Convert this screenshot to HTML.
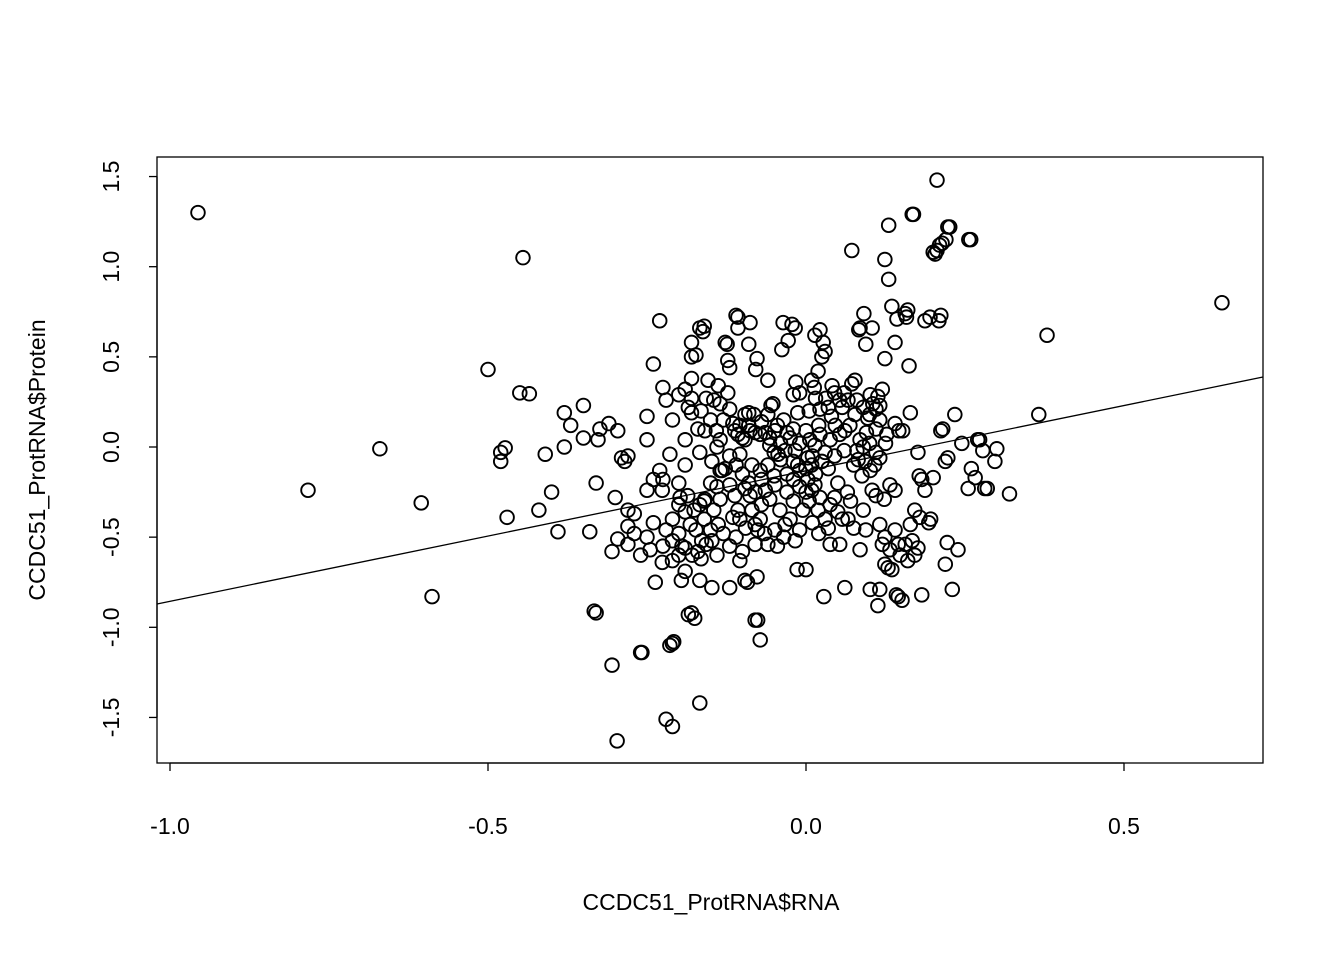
<!DOCTYPE html>
<html><head><meta charset="utf-8"><style>
html,body{margin:0;padding:0;background:#fff}
svg{display:block;font-family:"Liberation Sans",Arial,sans-serif}
</style></head><body>
<svg id="chart" width="1344" height="960" viewBox="0 0 1344 960">
<rect x="157" y="157" width="1106" height="606" fill="none" stroke="#000" stroke-width="1.3"/>
<g id="xaxis"></g>
<g id="yaxis"></g>
<g id="pts"></g>
<line id="fit" stroke="#000" stroke-width="1.3"/>
<text x="711" y="910" font-size="23" text-anchor="middle">CCDC51_ProtRNA$RNA</text>
<text transform="translate(45,460) rotate(-90)" font-size="23" text-anchor="middle">CCDC51_ProtRNA$Protein</text>
</svg>
<script>
const xTicks=[-1.0,-0.5,0.0,0.5];
const xTickLabels=["-1.0","-0.5","0.0","0.5"];
const yTicks=[-1.5,-1.0,-0.5,0.0,0.5,1.0,1.5];
const yTickLabels=["-1.5","-1.0","-0.5","0.0","0.5","1.0","1.5"];
const fitIntercept=-0.132;
const fitSlope=0.724;
const observations=[
[-0.956,1.30],[-0.445,1.05],[-0.67,-0.01],[-0.783,-0.24],[-0.605,-0.31],[-0.588,-0.83],[-0.50,0.43],[-0.45,0.30],[-0.435,0.295],
[-0.473,-0.005],[-0.48,-0.03],[-0.48,-0.08],[-0.47,-0.39],[-0.42,-0.35],[-0.41,-0.04],[-0.40,-0.25],[-0.39,-0.47],[-0.38,0.19],
[-0.38,0.0],[-0.37,0.12],[-0.35,0.23],[-0.35,0.05],[-0.34,-0.47],[-0.333,-0.91],[-0.33,-0.92],[-0.33,-0.20],[-0.327,0.04],
[-0.324,0.10],[-0.31,0.13],[-0.305,-0.58],[-0.305,-1.21],[-0.297,-1.63],[-0.30,-0.28],[-0.296,0.09],[-0.296,-0.51],
[-0.285,-0.08],[-0.29,-0.06],[-0.28,-0.05],[-0.28,-0.44],[-0.28,-0.54],[-0.28,-0.35],[-0.27,-0.37],[-0.26,-1.14],[-0.258,-1.14],
[-0.25,-0.24],[-0.25,0.17],[-0.25,0.04],[-0.24,0.46],[-0.24,-0.18],[-0.245,-0.57],[-0.237,-0.75],[-0.23,0.70],[-0.225,0.33],
[-0.22,0.26],[-0.226,-0.64],[-0.225,-0.55],[-0.22,-0.46],[-0.226,-0.24],[-0.22,-1.51],[-0.21,-1.55],[-0.214,-1.10],[-0.21,-1.09],
[-0.208,-1.08],[-0.214,-0.04],[-0.21,0.15],[-0.20,0.29],[-0.19,0.32],[-0.18,0.27],[-0.185,0.22],[-0.18,0.19],[-0.196,-0.74],
[-0.19,-0.69],[-0.185,-0.93],[-0.18,-0.92],[-0.175,-0.95],[-0.23,-0.13],[-0.225,-0.18],
[-0.18,0.58],[-0.167,0.66],[-0.16,0.67],[-0.162,0.64],[-0.173,0.51],[-0.18,0.50],[-0.18,0.38],[-0.154,0.37],[-0.138,0.34],
[-0.157,0.27],[-0.145,0.26],[-0.135,0.24],[-0.12,0.21],[-0.11,0.73],[-0.107,0.72],[-0.107,0.66],[-0.127,0.58],[-0.124,0.57],
[-0.123,0.48],[-0.12,0.44],[-0.123,0.30],[-0.104,0.12],[-0.096,0.18],[-0.09,0.19],[-0.082,0.18],[-0.088,0.69],[-0.09,0.57],
[-0.079,0.43],[-0.077,0.49],[-0.06,0.37],[-0.055,0.23],[-0.052,0.24],[-0.038,0.54],[-0.036,0.69],[-0.028,0.59],[-0.022,0.68],
[-0.017,0.66],[-0.02,0.29],[-0.016,0.36],[-0.013,0.19],[-0.01,0.30],
[-0.19,0.04],[-0.167,-0.03],[-0.159,0.09],[-0.141,0.09],[-0.135,0.04],[-0.148,-0.08],[-0.135,-0.13],[-0.127,-0.12],[-0.112,0.09],
[-0.107,0.07],[-0.096,0.04],[-0.104,-0.04],[-0.088,0.09],[-0.08,0.08],[-0.072,0.07],[-0.064,0.08],[-0.057,0.05],[-0.049,0.09],
[-0.057,0.01],[-0.044,-0.04],[-0.04,-0.07],[-0.033,-0.02],[-0.025,0.05],[-0.017,-0.02],[-0.013,-0.10],[-0.01,-0.13],[-0.085,-0.10],
[-0.072,-0.13],[-0.03,-0.15],[-0.02,-0.18],[-0.05,-0.16],
[-0.198,-0.28],[-0.186,-0.27],[-0.176,-0.35],[-0.167,-0.32],[-0.159,-0.29],[-0.182,-0.43],[-0.173,-0.46],[-0.164,-0.52],[-0.19,-0.56],
[-0.179,-0.60],[-0.157,-0.54],[-0.148,-0.52],[-0.138,-0.43],[-0.135,-0.29],[-0.132,-0.13],[-0.12,-0.21],[-0.112,-0.27],[-0.107,-0.35],
[-0.115,-0.39],[-0.104,-0.40],[-0.096,-0.23],[-0.088,-0.27],[-0.08,-0.43],[-0.076,-0.46],[-0.08,-0.54],[-0.072,-0.40],[-0.064,-0.24],
[-0.057,-0.29],[-0.049,-0.21],[-0.06,-0.54],[-0.049,-0.46],[-0.041,-0.35],[-0.033,-0.43],[-0.025,-0.40],[-0.017,-0.52],[-0.01,-0.46],
[-0.014,-0.68],[0.0,-0.68],[-0.096,-0.74],[-0.092,-0.75],[-0.077,-0.72],[-0.08,-0.96],[-0.076,-0.96],[-0.072,-1.07],[-0.167,-0.74],
[-0.148,-0.78],[-0.12,-0.78],[-0.104,-0.63],[-0.1,-0.58],[-0.167,-1.42],[-0.21,-0.40],[-0.2,-0.48],[-0.21,-0.52],[-0.14,-0.22],
[0.022,0.65],[0.014,0.62],[0.027,0.58],[0.025,0.50],[0.03,0.53],[0.019,0.42],[0.013,0.33],[0.009,0.37],[0.031,0.27],[0.022,0.21],
[0.041,0.34],[0.053,0.26],[0.057,0.22],[0.066,0.26],[0.072,0.35],[0.077,0.37],[0.072,1.09],[0.083,0.65],[0.085,0.66],[0.091,0.74],
[0.094,0.57],[0.104,0.66],[0.101,0.29],[0.105,0.24],[0.113,0.28],[0.116,0.23],[0.11,0.21],[0.097,0.16],[0.12,0.32],[0.124,0.49],
[0.124,1.04],[0.13,1.23],[0.13,0.93],[0.135,0.78],[0.14,0.58],[0.143,0.71],[0.14,0.13],[0.146,0.09],[0.152,0.09],[0.156,0.74],
[0.16,0.76],[0.158,0.72],[0.162,0.45],[0.164,0.19],[0.167,1.29],[0.169,1.29],[0.176,-0.03],[0.178,-0.16],[0.182,-0.18],[0.187,0.70],
[0.195,0.72],[0.206,1.48],[0.2,1.08],[0.203,1.07],[0.206,1.09],[0.21,1.12],[0.214,1.13],[0.22,1.15],[0.223,1.22],[0.226,1.22],
[0.209,0.70],[0.212,0.73],[0.212,0.09],[0.215,0.10],[0.223,-0.06],[0.219,-0.08],[0.234,0.18],[0.245,0.02],[0.256,1.15],[0.259,1.15],
[0.255,-0.23],[0.26,-0.12],[0.266,-0.17],[0.27,0.04],[0.273,0.04],[0.278,-0.02],[0.281,-0.23],[0.285,-0.23],[0.297,-0.08],[0.3,-0.01],
[0.32,-0.26],[0.366,0.18],[0.379,0.62],[0.654,0.80],[0.239,-0.57],[0.23,-0.79],[0.222,-0.53],[0.219,-0.65],[0.2,-0.17],[0.193,-0.42],
[0.196,-0.40],[0.182,-0.82],
[0.0,0.09],[0.006,0.04],[0.014,0.01],[0.022,0.07],[0.03,-0.03],[0.003,-0.06],[0.009,-0.10],[0.038,0.04],[0.046,0.12],[0.053,0.07],
[0.061,0.09],[0.069,0.12],[0.077,0.18],[0.085,0.04],[0.082,-0.07],[0.093,-0.08],[0.101,-0.13],[0.108,-0.10],[0.116,-0.06],[0.088,-0.16],
[0.104,-0.24],[0.11,-0.27],[0.123,-0.29],[0.132,-0.21],[0.14,-0.24],[0.116,0.15],[0.127,0.07],[0.04,0.17],[0.06,-0.02],[0.02,0.12],
[0.003,-0.18],[0.009,-0.24],[0.014,-0.21],[0.022,-0.28],[0.019,-0.35],[0.03,-0.40],[0.038,-0.32],[0.05,-0.36],[0.057,-0.40],[0.066,-0.40],
[0.053,-0.54],[0.038,-0.54],[0.028,-0.83],[0.061,-0.78],[0.085,-0.57],[0.094,-0.46],[0.113,-0.88],[0.116,-0.43],[0.12,-0.54],[0.124,-0.65],
[0.129,-0.67],[0.135,-0.68],[0.132,-0.57],[0.124,-0.50],[0.14,-0.46],[0.145,-0.54],[0.148,-0.60],[0.142,-0.82],[0.145,-0.83],[0.151,-0.85],
[0.156,-0.54],[0.16,-0.63],[0.164,-0.43],[0.167,-0.52],[0.171,-0.60],[0.176,-0.56],[0.171,-0.35],[0.179,-0.39],[0.187,-0.24],[0.101,-0.79],
[0.116,-0.79],
[-0.12,-0.05],[-0.11,-0.10],[-0.1,-0.15],[-0.09,-0.20],[-0.08,-0.25],[-0.07,-0.18],[-0.06,-0.10],[-0.05,-0.03],[-0.04,0.02],[-0.03,0.08],
[-0.02,-0.08],[-0.01,-0.22],[0.0,-0.25],[0.005,-0.30],[-0.005,-0.35],[0.0,-0.12],[0.01,-0.05],[0.015,-0.15],[0.025,-0.08],[0.035,-0.12],
[0.045,-0.05],[0.05,-0.20],[0.065,-0.25],[0.07,-0.30],[0.075,-0.10],[0.08,-0.02],[0.09,0.00],[0.095,0.08],[0.1,0.02],[0.11,-0.03],
[-0.13,0.15],[-0.115,0.13],[-0.1,0.05],[-0.09,0.12],[-0.07,0.14],[-0.06,0.18],[-0.045,0.12],[-0.035,0.15],[-0.02,0.10],[-0.01,0.02],
[0.005,0.20],[0.015,0.27],[0.035,0.22],[0.045,0.30],[0.06,0.30],[0.08,0.26],[0.09,0.22],[0.1,0.18],[0.11,0.10],[0.125,0.02],
[-0.15,-0.20],[-0.16,-0.40],[-0.15,-0.46],[-0.13,-0.48],[-0.12,-0.55],[-0.11,-0.50],[-0.095,-0.45],[-0.085,-0.35],[-0.07,-0.32],[-0.065,-0.48],
[-0.045,-0.55],[-0.035,-0.50],[-0.02,-0.30],[-0.03,-0.25],[0.01,-0.42],[0.02,-0.48],[0.035,-0.45],[0.045,-0.28],[0.075,-0.45],[0.09,-0.35],
[-0.2,-0.32],[-0.19,-0.36],[-0.2,-0.60],[-0.21,-0.63],[-0.195,-0.55],[-0.17,-0.58],[-0.165,-0.62],[-0.16,-0.30],[-0.145,-0.35],[-0.14,-0.60],
[-0.27,-0.48],[-0.26,-0.60],[-0.25,-0.50],[-0.24,-0.42],[-0.2,-0.20],[-0.19,-0.10],[-0.17,0.10],[-0.165,0.20],[-0.15,0.15],[-0.14,0.00]
];
const NS="http://www.w3.org/2000/svg";
const sx=v=>806+636*v;
const sy=v=>447-180.3*v;
const xa=document.getElementById('xaxis');
const ya=document.getElementById('yaxis');
function mk(tag,attrs,parent){const e=document.createElementNS(NS,tag);for(const k in attrs)e.setAttribute(k,attrs[k]);parent.appendChild(e);return e;}
let l=mk('line',{x1:sx(xTicks[0]),x2:sx(xTicks[xTicks.length-1]),y1:763,y2:763,stroke:'#000','stroke-width':1.3},xa);


xTicks.forEach((v,i)=>{
 const t=mk('line',{x1:sx(v),x2:sx(v),y1:763,y2:771,stroke:'#000','stroke-width':1.3},xa);
 
 
 const tx=mk('text',{x:sx(v),y:834,'font-size':23,'text-anchor':'middle'},xa);
 tx.textContent=xTickLabels[i];
 
 
});
l=mk('line',{x1:157,x2:157,y1:sy(yTicks[0]),y2:sy(yTicks[yTicks.length-1]),stroke:'#000','stroke-width':1.3},ya);


yTicks.forEach((v,i)=>{
 const t=mk('line',{x1:149,x2:157,y1:sy(v),y2:sy(v),stroke:'#000','stroke-width':1.3},ya);
 
 
 const tx=mk('text',{transform:`translate(119,${sy(v)}) rotate(-90)`,'font-size':23,'text-anchor':'middle'},ya);
 tx.textContent=yTickLabels[i];
 
 
});
const pg=document.getElementById('pts');
observations.forEach(p=>{
 const c=mk('circle',{cx:sx(p[0]),cy:sy(p[1]),r:6.8,fill:'none',stroke:'#000','stroke-width':1.9},pg);
 
 
});
const x0=(157-806)/636, x1=(1263-806)/636;
const f=document.getElementById('fit');
f.setAttribute('x1',sx(x0));f.setAttribute('y1',sy(fitIntercept+fitSlope*x0));
f.setAttribute('x2',sx(x1));f.setAttribute('y2',sy(fitIntercept+fitSlope*x1));
</script>
</body></html>
